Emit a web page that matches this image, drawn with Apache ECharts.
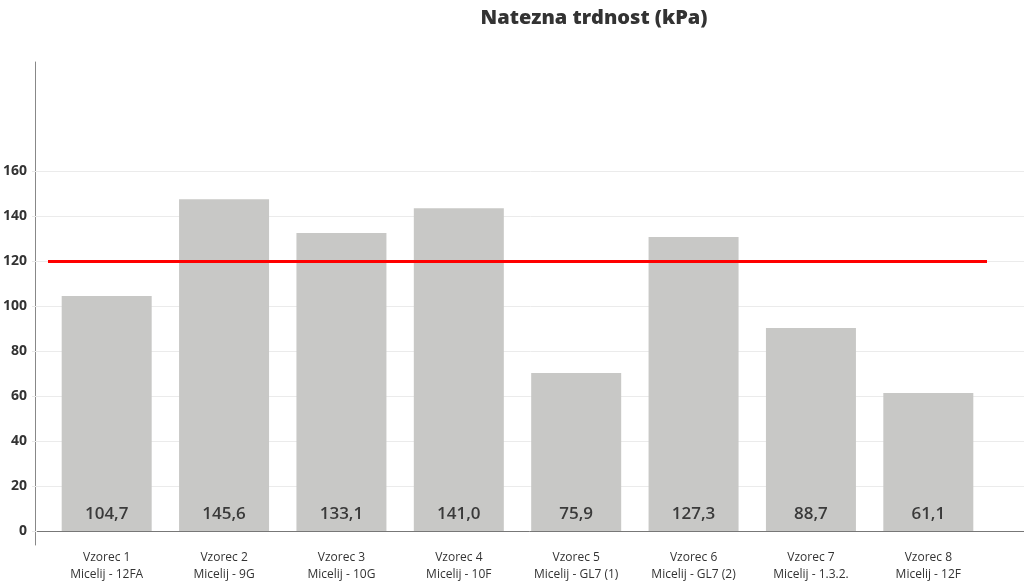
<!DOCTYPE html>
<html>
<head>
<meta charset="utf-8">
<title>Natezna trdnost (kPa)</title>
<script src="https://cdn.jsdelivr.net/npm/echarts@6/dist/echarts.min.js"></script>
<style>
  html, body { margin: 0; padding: 0; background: #fff; }
  #chart { width: 1024px; height: 587px; }
</style>
</head>
<body>
<div id="chart"></div>
<script>
// podatki
var vzorci = ['Vzorec 1', 'Vzorec 2', 'Vzorec 3', 'Vzorec 4', 'Vzorec 5', 'Vzorec 6', 'Vzorec 7', 'Vzorec 8'];
var miceliji = ['Micelij - 12FA', 'Micelij - 9G', 'Micelij - 10G', 'Micelij - 10F', 'Micelij - GL7 (1)', 'Micelij - GL7 (2)', 'Micelij - 1.3.2.', 'Micelij - 12F'];
// visine stolpcev, odcitane s slike
var visine = [104.4, 147.5, 132.4, 143.5, 70.2, 130.7, 90.2, 61.3];
// napisi na stolpcih
var napisi = ['104,7', '145,6', '133,1', '141,0', '75,9', '127,3', '88,7', '61,1'];
var meja = 120;
var yTicks = [0, 20, 40, 60, 80, 100, 120, 140, 160];

var kategorije = vzorci.map(function (v, i) { return v + '\n' + miceliji[i]; });
var font = '"Open Sans", Lato, sans-serif';

;(function () {
  var myChart = echarts.init(document.getElementById('chart'));

  var option = {
    animation: false,
    title: {
      text: 'Natezna trdnost (kPa)',
      left: 589,
      top: 3,
      textAlign: 'center',
      textStyle: { fontFamily: font, fontWeight: 800, fontSize: 20, color: '#333' }
    },
    grid: [
      // mreza z oznakami osi y
      { left: 35, right: 0, top: 171, bottom: 56 },
      // stolpci
      { left: 48, right: 37, top: 171, bottom: 56 },
      // crti osi
      { left: 35, right: 0, top: 62, bottom: 42 }
    ],
    xAxis: [
      { gridIndex: 0, type: 'value', show: false },
      {
        gridIndex: 1,
        type: 'category',
        data: kategorije,
        axisLine: { show: false },
        axisTick: { show: false },
        axisLabel: {
          margin: 18,
          fontFamily: font,
          fontSize: 12,
          lineHeight: 17,
          color: '#333'
        }
      },
      {
        gridIndex: 2,
        type: 'value',
        axisLine: { show: true, onZero: true, lineStyle: { color: '#777', width: 1 } },
        axisTick: { show: false },
        axisLabel: { show: false },
        splitLine: { show: false }
      }
    ],
    yAxis: [
      {
        gridIndex: 0,
        type: 'value',
        min: yTicks[0],
        max: yTicks[yTicks.length - 1],
        interval: 20,
        axisLine: { show: false },
        axisTick: { show: true, length: 5, lineStyle: { color: '#e8e8e8' } },
        axisLabel: {
          margin: 10,
          fontFamily: font,
          fontWeight: 'bold',
          fontSize: 14,
          color: '#333'
        },
        splitLine: { lineStyle: { color: '#ebebeb', width: 1 } }
      },
      {
        gridIndex: 1,
        type: 'value',
        min: yTicks[0],
        max: yTicks[yTicks.length - 1],
        show: false
      },
      {
        gridIndex: 2,
        type: 'value',
        min: -14 / 2.25,
        max: (531 - 62) / 2.25,
        axisLine: { show: true, lineStyle: { color: '#888', width: 1 } },
        axisTick: { show: false },
        axisLabel: { show: false },
        splitLine: { show: false }
      }
    ],
    series: [
      {
        name: 'Natezna trdnost',
        type: 'bar',
        xAxisIndex: 1,
        yAxisIndex: 1,
        data: visine,
        barWidth: 90,
        itemStyle: { color: '#c8c8c6' },
        label: {
          show: true,
          position: 'insideBottom',
          distance: 8,
          fontFamily: font,
          fontWeight: 600,
          fontSize: 17,
          color: '#3a3a3a',
          formatter: function (p) { return napisi[p.dataIndex]; }
        },
        markLine: {
          silent: true,
          symbol: 'none',
          label: { show: false },
          lineStyle: { color: '#ff0000', width: 3, type: 'solid' },
          data: [{ yAxis: meja }]
        }
      }
    ]
  };

  myChart.setOption(option);
  window.addEventListener('resize', function () {
    myChart.resize();
  });
})();
</script>
</body>
</html>
